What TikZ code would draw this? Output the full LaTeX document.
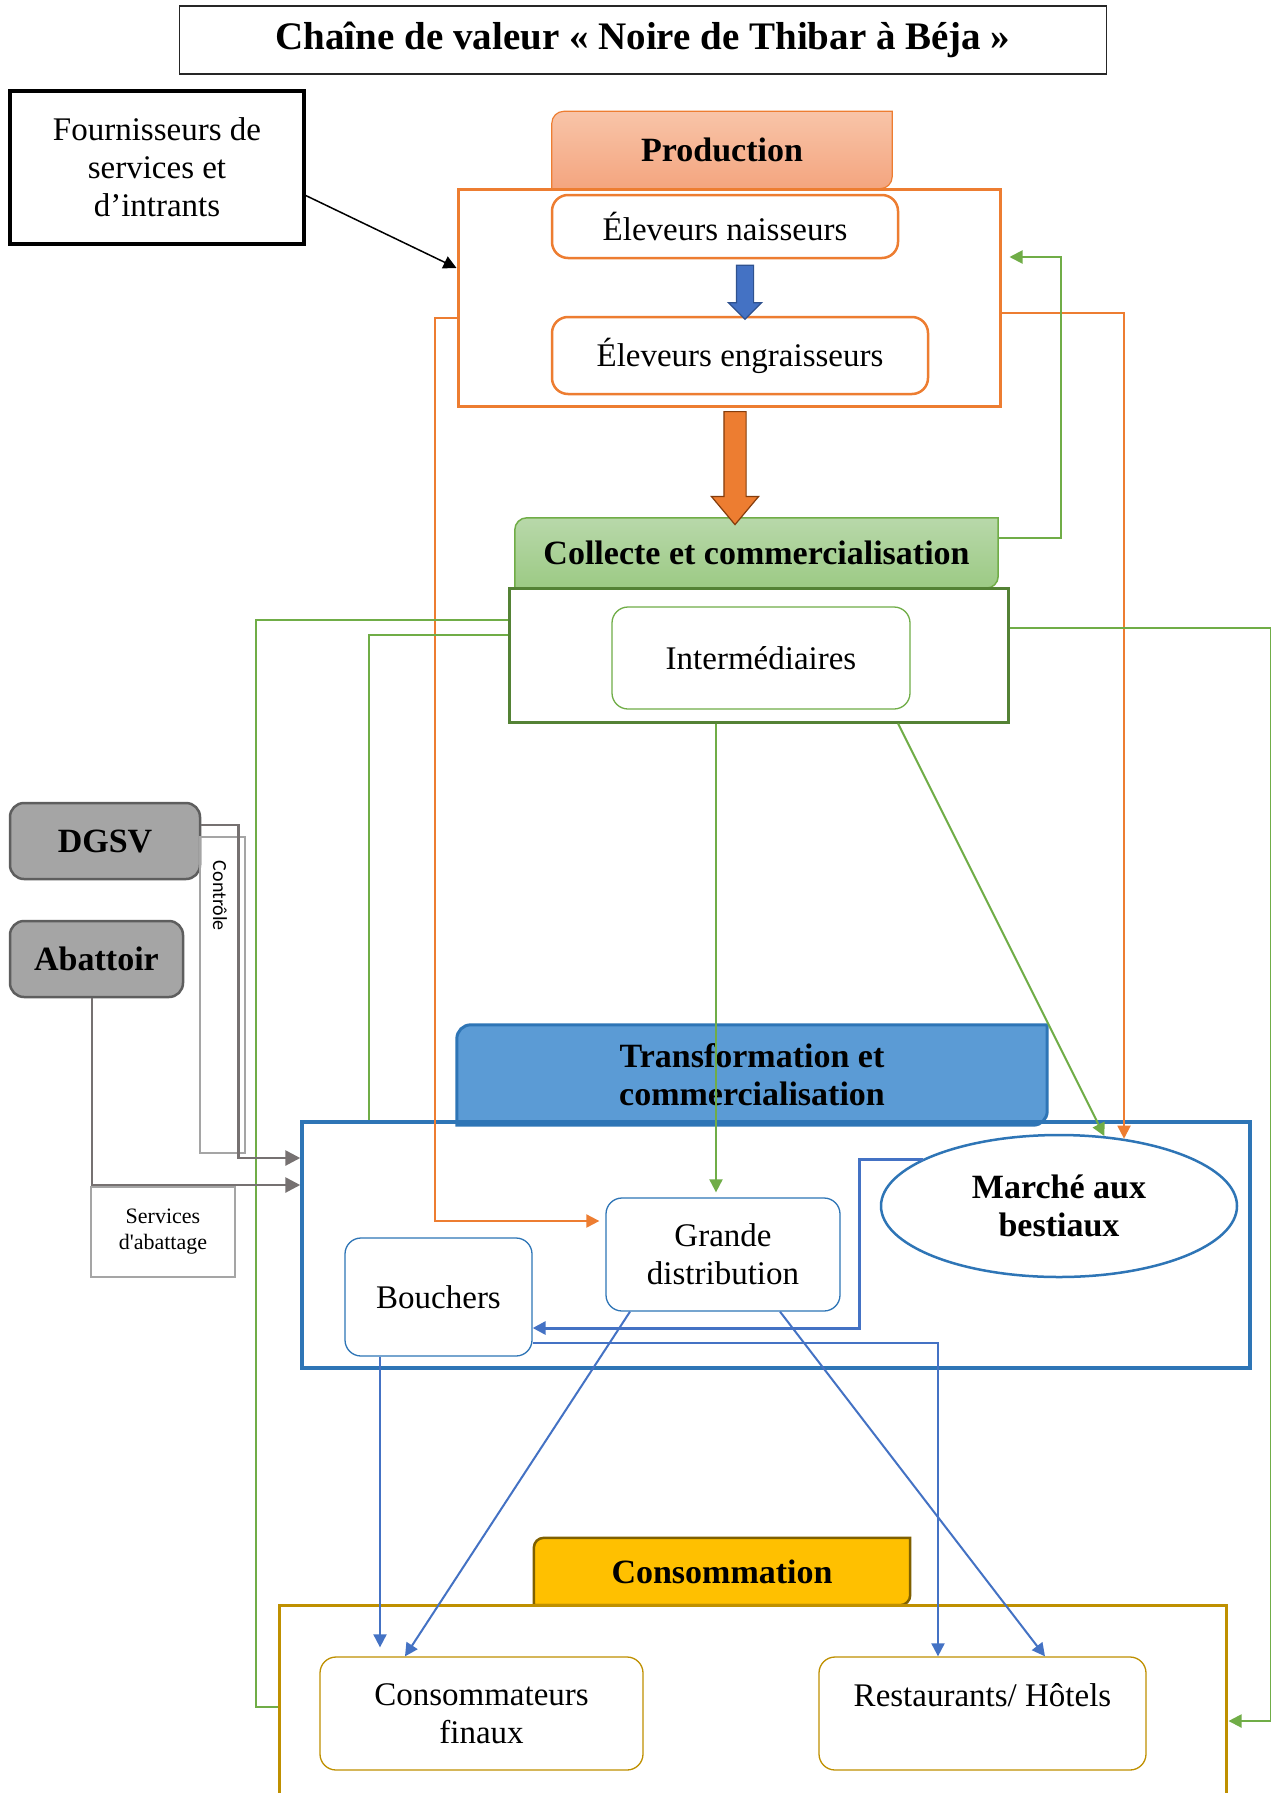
\documentclass[tikz,border=0pt]{standalone}
\usepackage{fontspec}
\setmainfont{Liberation Serif}
\newfontfamily\ctrlfont{Carlito}
\usetikzlibrary{positioning,arrows.meta,calc,shapes.geometric,shapes.arrows,backgrounds}
\definecolor{orng}{HTML}{ED7D31}
\definecolor{orngdark}{HTML}{843C0C}
\definecolor{salmtop}{HTML}{F8C4A8}
\definecolor{salmbot}{HTML}{F4A57F}
\definecolor{leaf}{HTML}{70AD47}
\definecolor{leafdark}{HTML}{548235}
\definecolor{leaftop}{HTML}{B8D8AA}
\definecolor{leafbot}{HTML}{9CCA84}
\definecolor{sky}{HTML}{5B9BD5}
\definecolor{navy}{HTML}{2E75B6}
\definecolor{royal}{HTML}{4472C4}
\definecolor{royaldark}{HTML}{2F528F}
\definecolor{gold}{HTML}{FFC000}
\definecolor{golddark}{HTML}{7F6000}
\definecolor{ochre}{HTML}{BF9000}
\definecolor{slate}{HTML}{767171}
\definecolor{stone}{HTML}{A5A5A5}
\definecolor{stonedark}{HTML}{5E5E5E}
\newcommand{\regfont}{\fontsize{33}{38}\selectfont}
\newcommand{\boldfont}{\fontsize{34}{38}\selectfont\bfseries}
\newcommand{\tabframe}[3]{%
  \draw[#3] (#1.south west) -- ([yshift=-#2]#1.north west)
    arc[start angle=180,end angle=90,radius=#2] -- (#1.north east)
    -- ([yshift=#2]#1.south east) arc[start angle=0,end angle=-90,radius=#2] -- cycle;}

\begin{document}
\begin{tikzpicture}[
  x=1pt,y=-1pt,
  titlebox/.style={draw=black!85,line width=1.5pt,minimum width=927pt,minimum height=68pt,
                   font=\fontsize{39}{42}\selectfont\bfseries},
  supbox/.style={draw=black,line width=3.5pt,align=center,font=\regfont},
  stagebox/.style={draw=#1,line width=3pt},
  tabhdr/.style={align=center,font=\boldfont},
  actor/.style={draw=#1,line width=1.3pt,rounded corners=16pt,fill=white,align=center,font=\regfont},
  govbox/.style={draw=stonedark,fill=stone,line width=2.5pt,rounded corners=14pt,font=\boldfont},
  notebox/.style={draw=stone,line width=1.3pt},
  blockar/.style={single arrow,rotate=-90,line width=1.2pt,inner xsep=0pt},
  ar/.style={-{Triangle[length=13pt,width=13pt]},line width=2pt},
  link/.style={draw=leaf,line width=2pt},
  gar/.style={-{Triangle[length=15pt,width=15pt]},draw=slate,line width=2.8pt}
]
\useasboundingbox (0,0) rectangle (1271,1793);

\node[titlebox] (title) at (643,40) {Chaîne de valeur « Noire de Thibar à Béja »};
\node[supbox,minimum width=294pt,minimum height=153pt] (four) at (157,167.5) {Fournisseurs de\\services et\\d’intrants};

\node[tabhdr,minimum width=340pt,minimum height=77pt] (prodhdr) at (722,150) {Production};
\node[stagebox=orng,minimum width=542pt,minimum height=217pt] (prodbox) at (729,297.5) {};
\node[actor=orng,line width=2.5pt,minimum width=346pt,minimum height=63pt] (naiss) at (725,226.5) {Éleveurs naisseurs};
\node[actor=orng,line width=2.5pt,minimum width=376pt,minimum height=77pt] (engr) at (740,355.5) {Éleveurs engraisseurs};
\node[blockar,fill=royal,draw=royaldark,minimum height=54pt,inner ysep=8pt,single arrow head extend=8pt] (dnblue) at (745,288) {};
\node[blockar,fill=orng,draw=orngdark,minimum height=113pt,inner ysep=10.5pt,single arrow head extend=12.5pt,single arrow tip angle=80] (dnorng) at (735,461.5) {};

\node[tabhdr,minimum width=483pt,minimum height=70pt] (collhdr) at (756.5,553) {Collecte et commercialisation};
\node[stagebox=leafdark,minimum width=499pt,minimum height=134pt] (collbox) at (758.5,655) {};
\node[actor=leaf,minimum width=298pt,minimum height=102pt] (inter) at (761,658) {Intermédiaires};

\node[tabhdr,minimum width=590pt,minimum height=100pt] (trhdr) at (752,1075) {Transformation et\\commercialisation};
\node[stagebox=navy,line width=3.5pt,minimum width=948pt,minimum height=246pt] (trbox) at (776,1245) {};
\node[ellipse,draw=navy,line width=2.5pt,fill=white,minimum width=356pt,minimum height=142pt,
      align=center,font=\boldfont] (marche) at (1059,1206) {Marché aux\\bestiaux};
\node[actor=navy,minimum width=234pt,minimum height=113pt] (grande) at (723,1254.5) {Grande\\distribution};
\node[actor=navy,minimum width=187pt,minimum height=118pt] (bouch) at (438.5,1297) {Bouchers};

\node[tabhdr,minimum width=376pt,minimum height=67pt] (conshdr) at (722,1571.5) {Consommation};
\node[stagebox=ochre,minimum width=947pt,minimum height=225pt] (consbox) at (752.5,1717.5) {};
\node[actor=ochre,minimum width=323pt,minimum height=113pt] (consfin) at (481.5,1713.5) {Consommateurs\\finaux};
\node[actor=ochre,minimum width=327pt,minimum height=113pt] (resto) at (982.5,1713.5) {Restaurants/ Hôtels\\\mbox{}};

\node[govbox,minimum width=190pt,minimum height=76pt] (dgsv) at (105,841) {DGSV};
\node[govbox,minimum width=173pt,minimum height=76pt] (abat) at (96.5,959) {Abattoir};
\node[notebox,minimum width=45pt,minimum height=316pt] (ctrl) at (222.5,995) {};
\node[font=\ctrlfont\fontsize{20}{24}\selectfont,rotate=-90,anchor=west] (ctrltxt) at ($(ctrl.north)+(-2.5,21)$) {Contrôle};
\node[notebox,minimum width=144pt,minimum height=90pt,align=center,font=\fontsize{22}{26}\selectfont] (serv) at (163,1232) {Services\\d\textquotesingle abattage};

\begin{scope}[on background layer]
\fill[white] (0,0) rectangle (1271,1793);
\tabframe{prodhdr}{12pt}{draw=orng,line width=1.2pt,top color=salmtop,bottom color=salmbot}
\tabframe{collhdr}{12pt}{draw=leaf,line width=1.5pt,top color=leaftop,bottom color=leafbot}
\tabframe{trhdr}{14pt}{draw=navy,line width=3pt,fill=sky}
\tabframe{conshdr}{10pt}{draw=golddark,line width=2.5pt,fill=gold}
\end{scope}

\draw[ar,draw=black,line width=1.5pt] ($(four.east)+(0,28)$) -- ($(prodbox.west)+(0,-29.5)$);

\draw[ar,draw=orng] ($(prodbox.east)+(0,15.5)$) -| (marche.46);
\draw[ar,draw=orng] ($(prodbox.west)+(0,20.5)$) -- ++(-22,0) |- ($(grande.west)+(-6,-33.5)$);

\draw[link,ar] ($(collhdr.east)+(0,-15)$) -- ++(63,0) |- ($(prodbox.east)+(8,-40.5)$);
\draw[link] ($(collbox.west)+(0,-35)$) -- ++(-252,0) |- ($(consbox.west)+(0,-10.5)$);
\draw[link] ($(collbox.west)+(0,-20)$) -| ($(trbox.north west)+(69,0)$);
\draw[link,ar] ($(collbox.east)+(0,-27)$) -- ++(261,0) |- ($(consbox.east)+(1,3.5)$);
\draw[link,ar] ($(collbox.south)+(-42.5,0)$) -- ($(grande.north)+(-7,-5)$);
\draw[link,ar] ($(collbox.south)+(139.5,0)$) -- (marche.57);

\draw[ar,draw=royal,line width=3pt] (marche.161) -- ++(-63,0) |- ($(bouch.east)+(0,31)$);
\draw[ar,draw=royal] ($(bouch.east)+(0,46)$) -| ($(resto.north)+(-44.5,0)$);
\draw[ar,draw=royal] ($(bouch.south)+(-58.5,0)$) -- ($(consfin.north)+(-101.5,-9)$);
\draw[ar,draw=royal] ($(grande.south)+(-93,0)$) -- ($(consfin.north)+(-76.5,0)$);
\draw[ar,draw=royal] ($(grande.south)+(57,0)$) -- ($(resto.north)+(62.5,0)$);

\draw[gar] ($(dgsv.east)+(0,-16)$) -- ++(37,0) |- ($(trbox.west)+(0,-87)$);
\draw[gar] ($(abat.south)+(-4.5,0)$) |- ($(trbox.west)+(0,-60)$);
\end{tikzpicture}
\end{document}
